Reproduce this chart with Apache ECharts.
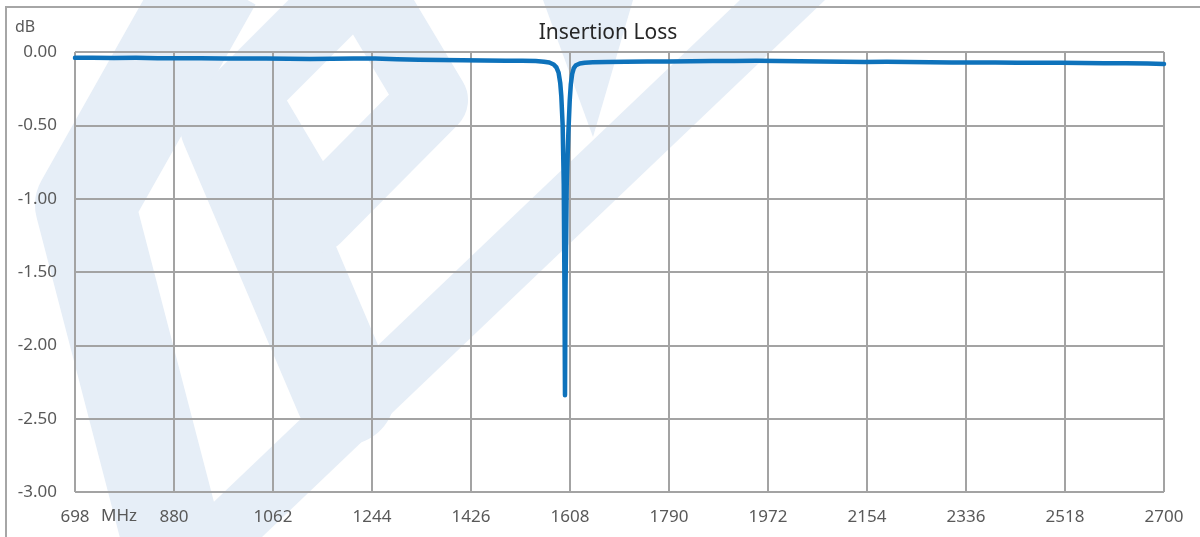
<!DOCTYPE html>
<html>
<head>
<meta charset="utf-8">
<title>Insertion Loss</title>
<script src="https://cdn.jsdelivr.net/npm/echarts@6/dist/echarts.min.js"></script>
<style>
  html, body { margin: 0; padding: 0; background: #fff; }
  #chart { width: 1200px; height: 537px; }
</style>
</head>
<body>
<div id="chart"></div>
<script>
// frequency points (MHz) and insertion loss (dB)
const freqMHz = [
  698, 730, 770, 810, 850, 890, 930, 970, 1010, 1050, 1090, 1130, 1170, 1210,
  1250, 1290, 1330, 1370, 1410, 1450, 1490, 1520, 1545, 1560, 1570, 1578, 1583,
  1587, 1590, 1592, 1594.5, 1596.5, 1597.8, 1598.8, 1599.8, 1602, 1605, 1607.5,
  1609.5, 1612, 1615, 1619, 1626, 1635, 1650, 1675, 1710, 1750, 1790, 1830,
  1870, 1910, 1950, 1990, 2030, 2070, 2110, 2150, 2190, 2230, 2270, 2310, 2350,
  2390, 2430, 2470, 2510, 2550, 2590, 2630, 2670, 2700
];
const lossDb = [
  -0.040, -0.039, -0.041, -0.040, -0.042, -0.043, -0.042, -0.044, -0.045, -0.044,
  -0.046, -0.047, -0.046, -0.045, -0.044, -0.049, -0.052, -0.054, -0.056, -0.058,
  -0.059, -0.060, -0.062, -0.066, -0.072, -0.085, -0.105, -0.14, -0.21, -0.30,
  -0.50, -0.90, -1.60, -2.34, -1.60, -0.90, -0.55, -0.33, -0.22, -0.15, -0.11,
  -0.09, -0.078, -0.073, -0.070, -0.068, -0.066, -0.065, -0.064, -0.063, -0.062,
  -0.061, -0.060, -0.061, -0.063, -0.064, -0.066, -0.068, -0.067, -0.069, -0.070,
  -0.071, -0.072, -0.071, -0.073, -0.074, -0.073, -0.075, -0.076, -0.077, -0.079,
  -0.081
];
// x tick positions (every 182 MHz from 698)
const xTicks = [698, 880, 1062, 1244, 1426, 1608, 1790, 1972, 2154, 2336, 2518, 2700];

const wm = "#e6eef7";
const gridColor = "#a3a3a3";
const labelColor = "#595959";
const font = "'Noto Sans', 'DejaVu Sans', sans-serif";

const chart = echarts.init(document.getElementById("chart"));
chart.setOption({
  animation: false,
  backgroundColor: "#fff",
  title: {
    text: "Insertion Loss",
    left: 603,
    top: 18,
    textAlign: "center",
    textStyle: { fontFamily: font, fontSize: 21, fontWeight: "normal", color: "#262626" },
  },
  grid: { left: 75, right: 36, top: 52, bottom: 45 },
  xAxis: {
    type: "value",
    min: 698,
    max: 2700,
    axisLine: { show: false },
    axisTick: { show: false, customValues: xTicks },
    splitLine: { show: true, lineStyle: { color: gridColor, width: 2 } },
    axisLabel: {
      customValues: xTicks,
      margin: 17,
      color: labelColor,
      fontFamily: font,
      fontSize: 17,
      formatter: (v) => String(v),
    },
  },
  yAxis: {
    type: "value",
    min: -3,
    max: 0,
    interval: 0.5,
    axisLine: { show: false },
    axisTick: { show: false },
    splitLine: { show: true, lineStyle: { color: gridColor, width: 2 } },
    axisLabel: {
      margin: 18,
      color: labelColor,
      fontFamily: font,
      fontSize: 17,
      formatter: (v) => v.toFixed(2),
    },
  },
  graphic: {
    elements: [
      // faint logo watermark
      { type: "polyline", z: -10, silent: true,
        shape: { points: [[212, -20], [85, 205], [180, 570]] },
        style: { stroke: wm, lineWidth: 100, lineJoin: "round", fill: null } },
      { type: "polyline", z: -10, silent: true,
        shape: { points: [[230, 125], [345, 395]] },
        style: { stroke: wm, lineWidth: 100, lineCap: "round", fill: null } },
      { type: "polygon", z: -10, silent: true,
        shape: { points: [[360, -22], [243, 95], [316, 218], [433, 100]] },
        style: { stroke: wm, lineWidth: 70, lineJoin: "round", fill: null } },
      { type: "polygon", z: -10, silent: true,
        shape: { points: [[740, 0], [825, 0], [262, 537], [177, 537]] },
        style: { fill: wm } },
      { type: "polygon", z: -10, silent: true,
        shape: { points: [[543, 0], [633, 0], [593, 137]] },
        style: { fill: wm } },
      // outer frame
      { type: "rect", z: 10, silent: true,
        shape: { x: 6, y: 7, width: 1210, height: 560 },
        style: { fill: null, stroke: "#a6a6a6", lineWidth: 2 } },
      { type: "text", z: 10, left: 15, top: 19,
        style: { text: "dB", fill: labelColor, font: "16px " + font } },
      { type: "text", z: 10, left: 101, top: 508,
        style: { text: "MHz", fill: labelColor, font: "17px " + font } },
    ],
  },
  series: [
    {
      type: "line",
      data: freqMHz.map((f, i) => [f, lossDb[i]]),
      showSymbol: false,
      z: 5,
      lineStyle: { color: "#0e72bb", width: 4.5, cap: "round", join: "round" },
    },
  ],
});
</script>
</body>
</html>
